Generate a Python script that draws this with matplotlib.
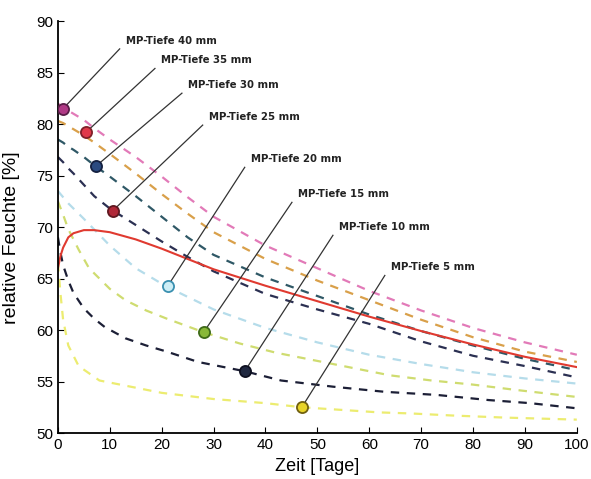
import numpy as np
import matplotlib
matplotlib.use('Agg')
import matplotlib.pyplot as plt

# Kurven (Zeit [Tage], relative Feuchte [%])
x_40 = [0, 1, 2, 3, 5, 7, 10, 15, 20, 25, 30, 40, 50, 60, 70, 80, 90, 100]
y_40 = [82.0, 81.6, 81.3, 81.0, 80.4, 79.6, 78.5, 76.8, 74.9, 72.9, 71.0, 68.2, 66.0, 63.8, 61.9, 60.2, 58.8, 57.6]
x_35 = x_40
y_35 = [80.3, 80.1, 79.8, 79.5, 78.9, 78.2, 77.1, 75.2, 73.2, 71.3, 69.5, 66.9, 64.8, 62.9, 61.0, 59.3, 57.9, 56.9]
x_30 = x_40
y_30 = [78.5, 78.2, 77.8, 77.5, 76.8, 76.0, 74.9, 73.0, 71.0, 69.0, 67.3, 65.1, 63.3, 61.5, 59.9, 58.5, 57.2, 56.1]
x_25 = x_40
y_25 = [76.8, 76.3, 75.7, 75.2, 74.1, 73.0, 71.8, 70.2, 68.6, 67.1, 65.7, 63.5, 62.0, 60.6, 58.9, 57.5, 56.5, 55.4]
x_20 = [0, 2, 5, 10, 15, 21, 30, 40, 50, 60, 70, 80, 90, 100]
y_20 = [73.5, 72.3, 70.8, 68.2, 66.0, 64.2, 62.0, 60.2, 58.8, 57.6, 56.7, 55.9, 55.3, 54.8]
x_15 = [0, 1, 2, 4, 6, 10, 13, 17, 21, 28, 35, 42, 49, 57, 64, 72, 80, 88, 100]
y_15 = [72.5, 71.2, 69.8, 67.8, 66.0, 64.0, 62.9, 61.9, 61.1, 59.8, 58.7, 57.8, 57.1, 56.3, 55.6, 55.1, 54.7, 54.2, 53.5]
x_10 = [0, 0.5, 1, 2, 3, 5, 7, 9, 13, 17, 21, 27, 36, 43, 53, 63, 73, 83, 91, 100]
y_10 = [69.0, 67.5, 66.3, 64.8, 63.6, 62.1, 61.1, 60.3, 59.2, 58.5, 57.9, 56.9, 56.0, 55.1, 54.5, 54.0, 53.7, 53.2, 52.9, 52.4]
x_5 = [0, 0.5, 1, 2, 4, 8, 13, 20, 30, 40, 47, 56, 62, 68, 76, 86, 100]
y_5 = [66.5, 63.5, 61.0, 58.5, 56.5, 55.1, 54.6, 53.9, 53.3, 52.9, 52.5, 52.2, 52.0, 51.9, 51.7, 51.5, 51.3]
x_rot = [0, 0.5, 1, 2, 3, 5, 7, 10, 15, 20, 25, 30, 40, 50, 60, 70, 80, 90, 100]
y_rot = [66.0, 67.2, 68.0, 69.0, 69.4, 69.7, 69.7, 69.5, 68.8, 67.9, 66.9, 65.9, 64.3, 62.8, 61.3, 59.9, 58.6, 57.4, 56.4]

# Messpunkte und Beschriftungen
labels = ['MP-Tiefe 40 mm', 'MP-Tiefe 35 mm', 'MP-Tiefe 30 mm', 'MP-Tiefe 25 mm',
          'MP-Tiefe 20 mm', 'MP-Tiefe 15 mm', 'MP-Tiefe 10 mm', 'MP-Tiefe 5 mm']
mp_x = [1, 5.4, 7.3, 10.6, 21.2, 28.1, 36, 47]
mp_y = [81.5, 79.2, 75.9, 71.6, 64.3, 59.8, 56.0, 52.5]
end_x = [11.9, 18.7, 23.9, 27.9, 36.0, 45.1, 53.0, 63.0]
end_y = [87.3, 85.4, 83.0, 79.9, 75.8, 72.4, 69.2, 65.3]

curves = [(x_40, y_40, '#e27ab8'), (x_35, y_35, '#d9a04a'), (x_30, y_30, '#2f5866'),
          (x_25, y_25, '#2b3052'), (x_20, y_20, '#b5dcea'), (x_15, y_15, '#cfdc70'),
          (x_10, y_10, '#1c1f36'), (x_5, y_5, '#ecec70')]
mp_face = ['#b03a86', '#e0384a', '#2a4a80', '#b02838', '#cdeef6', '#88b838', '#202840', '#e8d428']
mp_edge = ['#5a1e48', '#80202a', '#142040', '#601820', '#3a90b0', '#3e6a18', '#0e1020', '#706010']

fig = plt.figure(figsize=(5.91, 4.79), dpi=100)
ax = fig.add_axes([0.098, 0.096, 0.878, 0.86])

for xs, ys, col in curves:
    ax.plot(xs, ys, color=col, lw=1.6, dashes=(3.8, 3.4))
ax.plot(x_rot, y_rot, color='#e03a30', lw=1.5)

for i in range(len(labels)):
    ax.plot([mp_x[i], end_x[i]], [mp_y[i], end_y[i]], color='#333333', lw=0.9, zorder=4)
    ax.plot(mp_x[i], mp_y[i], 'o', ms=8, mfc=mp_face[i], mec=mp_edge[i], mew=1.3, zorder=5)
    ax.text(end_x[i] + 1.2, end_y[i] + 0.8, labels[i], fontsize=7.3, fontweight='bold',
            color='#222222', ha='left', va='center')

ax.set_xlim(0, 100)
ax.set_ylim(50, 90)
ax.set_xticks(np.arange(0, 101, 10))
ax.set_yticks(np.arange(50, 91, 5))
ax.spines['top'].set_visible(False)
ax.spines['right'].set_visible(False)
ax.spines['left'].set_linewidth(1.3)
ax.spines['bottom'].set_linewidth(1.3)
ax.tick_params(direction='in', length=4, labelsize=11)
for lab in ax.get_xticklabels() + ax.get_yticklabels():
    lab.set_family('Liberation Sans')
ax.set_xlabel('Zeit [Tage]', fontsize=13, family='Liberation Sans')
ax.set_ylabel('relative Feuchte [%]', fontsize=14, family='Liberation Sans')
ax.xaxis.set_label_coords(0.5, -0.06)
ax.yaxis.set_label_coords(-0.073, 0.473)

fig.savefig('out.png', dpi=100)
